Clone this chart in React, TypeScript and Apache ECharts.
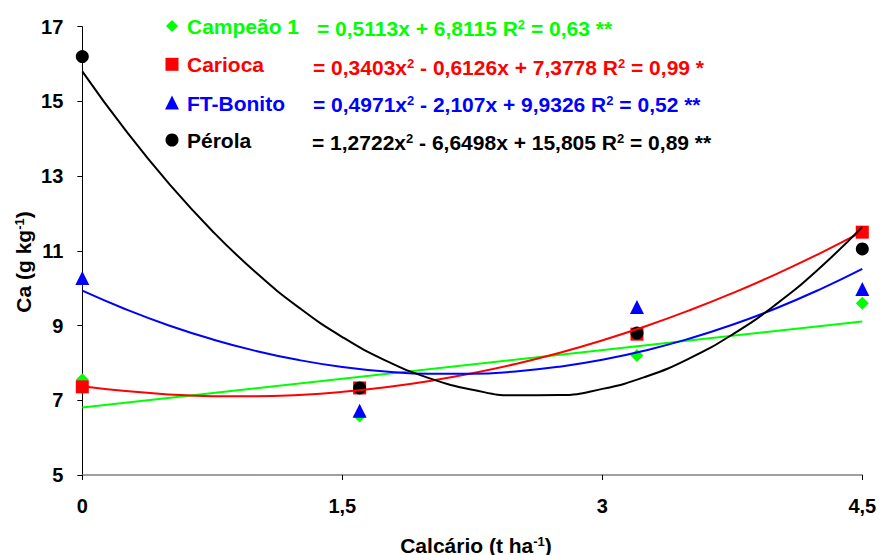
import React, { useEffect, useRef } from "react";
import * as echarts from "echarts";

const GREEN = "#00FF00";
const RED = "#FF0000";
const BLUE = "#0000FF";
const BLACK = "#000000";

const doses = [0, 1.6, 3.2, 4.5];
const campeaoObs = [7.55, 6.58, 8.2, 9.6];
const cariocaObs = [7.36, 7.33, 8.77, 11.5];
const bonitoObs = [10.27, 6.72, 9.5, 9.98];
const perolaObs = [16.2, 7.33, 8.8, 11.05];

const trendX = [0, 0.25, 0.5, 0.75, 1, 1.25, 1.5, 1.75, 2, 2.25, 2.5, 2.75, 3, 3.25, 3.5, 3.75, 4, 4.25, 4.5];
const campeaoTrendX = [0, 4.5];
const campeaoTrend = [6.81, 9.11];
const cariocaTrend = [7.378, 7.246, 7.157, 7.11, 7.106, 7.144, 7.225, 7.348, 7.514, 7.722, 7.973, 8.267, 8.603, 8.981, 9.402, 9.866, 10.372, 10.921, 11.512];
const bonitoTrend = [9.933, 9.437, 9.003, 8.632, 8.323, 8.076, 7.891, 7.768, 7.707, 7.708, 7.772, 7.898, 8.085, 8.335, 8.648, 9.022, 9.458, 9.957, 10.517];
const perolaTrend = [15.805, 14.222, 12.798, 11.533, 10.427, 9.481, 8.693, 8.064, 7.594, 7.283, 7.132, 7.139, 7.305, 7.631, 8.115, 8.759, 9.561, 10.523, 11.643];

const seriesNames = ["Campeão 1", "Carioca", "FT-Bonito", "Pérola"];
const equations = [
  "= 0,5113x + 6,8115 R{s|2} = 0,63 **",
  "= 0,3403x{s|2} - 0,6126x + 7,3778 R{s|2} = 0,99 *",
  "= 0,4971x{s|2} - 2,107x + 9,9326 R{s|2} = 0,52 **",
  "= 1,2722x{s|2} - 6,6498x + 15,805 R{s|2} = 0,89 **",
];

const yTicks = { min: 5, max: 17, interval: 2 };
const xTicks = { min: 0, max: 4.5, interval: 1.5 };

const FONT = "'Liberation Sans', Arial, sans-serif";

const zip = (xs: number[], ys: number[]) => xs.map((x, i) => [x, ys[i]]);

export default function App() {
  const ref = useRef<HTMLDivElement>(null);
  useEffect(() => {
    document.body.style.margin = "0";
    const chart = echarts.init(ref.current!, null, { renderer: "svg" });
    const colors = [GREEN, RED, BLUE, BLACK];
    const symbols = ["diamond", "rect", "triangle", "circle"];
    const sizes = [13, 13, 14, 13];
    const obs = [campeaoObs, cariocaObs, bonitoObs, perolaObs];
    const trends = [
      zip(campeaoTrendX, campeaoTrend),
      zip(trendX, cariocaTrend),
      zip(trendX, bonitoTrend),
      zip(trendX, perolaTrend),
    ];
    const rich = { s: { fontSize: 13, fontWeight: "bold", fontFamily: FONT, padding: [0, 0, 8, 0] } };

    const series: any[] = [];
    obs.forEach((o, i) => {
      series.push({
        type: "scatter",
        name: seriesNames[i],
        data: zip(doses, o),
        symbol: symbols[i],
        symbolSize: sizes[i],
        itemStyle: { color: colors[i], opacity: 1 },
        z: 2,
      });
    });
    trends.forEach((t, i) => {
      series.push({
        type: "line",
        name: seriesNames[i] + " trend",
        data: t,
        showSymbol: false,
        smooth: true,
        lineStyle: { color: colors[i], width: 2 },
        z: 3,
      });
    });

    const legendY = [26, 64.3, 103, 140];
    const eqX = [317, 313, 313, 312];
    const eqY = [28, 67, 104, 142];
    const graphic: any[] = [];
    graphic.push({
      type: "polygon",
      shape: { points: [[172, 20], [178, 26], [172, 32], [166, 26]] },
      style: { fill: GREEN },
    });
    graphic.push({ type: "rect", shape: { x: 165.5, y: 57.8, width: 13, height: 13 }, style: { fill: RED } });
    graphic.push({
      type: "polygon",
      shape: { points: [[172, 95.5], [179, 109.5], [165, 109.5]] },
      style: { fill: BLUE },
    });
    graphic.push({ type: "circle", shape: { cx: 172, cy: 140, r: 6.5 }, style: { fill: BLACK } });
    seriesNames.forEach((n, i) => {
      graphic.push({
        type: "text",
        x: 187,
        y: legendY[i],
        style: {
          text: n,
          fill: colors[i],
          font: `bold 21px ${FONT}`,
          textVerticalAlign: "middle",
        },
      });
      graphic.push({
        type: "text",
        x: eqX[i],
        y: eqY[i],
        style: {
          text: equations[i],
          fill: colors[i],
          fontSize: 21,
          fontWeight: "bold",
          fontFamily: FONT,
          textVerticalAlign: "middle",
          rich: { s: { ...rich.s, fill: colors[i] } },
        },
      });
    });
    graphic.push({
      type: "text",
      x: 476,
      y: 545,
      style: {
        text: "Calcário (t ha{s|-1})",
        fill: BLACK,
        fontSize: 21,
        fontWeight: "bold",
        fontFamily: FONT,
        textAlign: "center",
        textVerticalAlign: "middle",
        rich: { s: { ...rich.s, fill: BLACK } },
      },
    });
    graphic.push({
      type: "text",
      x: 23,
      y: 262,
      rotation: Math.PI / 2,
      style: {
        text: "Ca (g kg{s|-1})",
        fill: BLACK,
        fontSize: 21,
        fontWeight: "bold",
        fontFamily: FONT,
        textAlign: "center",
        textVerticalAlign: "middle",
        rich: { s: { ...rich.s, fill: BLACK } },
      },
    });

    chart.setOption({
      animation: false,
      backgroundColor: "#ffffff",
      grid: { left: 82.3, right: 18.7, top: 26.7, bottom: 80, containLabel: false },
      xAxis: {
        type: "value",
        min: xTicks.min,
        max: xTicks.max,
        interval: xTicks.interval,
        splitLine: { show: false },
        axisLine: { show: true, onZero: false, lineStyle: { color: "#808080", width: 1.5 } },
        axisTick: { show: true, length: 5, lineStyle: { color: BLACK, width: 1 } },
        axisLabel: {
          margin: 21,
          color: BLACK,
          fontSize: 20,
          fontWeight: "bold",
          fontFamily: FONT,
          formatter: (v: number) => String(v).replace(".", ","),
        },
      },
      yAxis: {
        type: "value",
        min: yTicks.min,
        max: yTicks.max,
        interval: yTicks.interval,
        splitLine: { show: false },
        axisLine: { show: true, onZero: false, lineStyle: { color: BLACK, width: 1 } },
        axisTick: { show: true, length: 5, lineStyle: { color: BLACK, width: 1 } },
        axisLabel: {
          margin: 19,
          color: BLACK,
          fontSize: 20,
          fontWeight: "bold",
          fontFamily: FONT,
        },
      },
      graphic,
      series,
    });
    return () => chart.dispose();
  }, []);
  return <div ref={ref} style={{ width: 881, height: 555 }} />;
}
